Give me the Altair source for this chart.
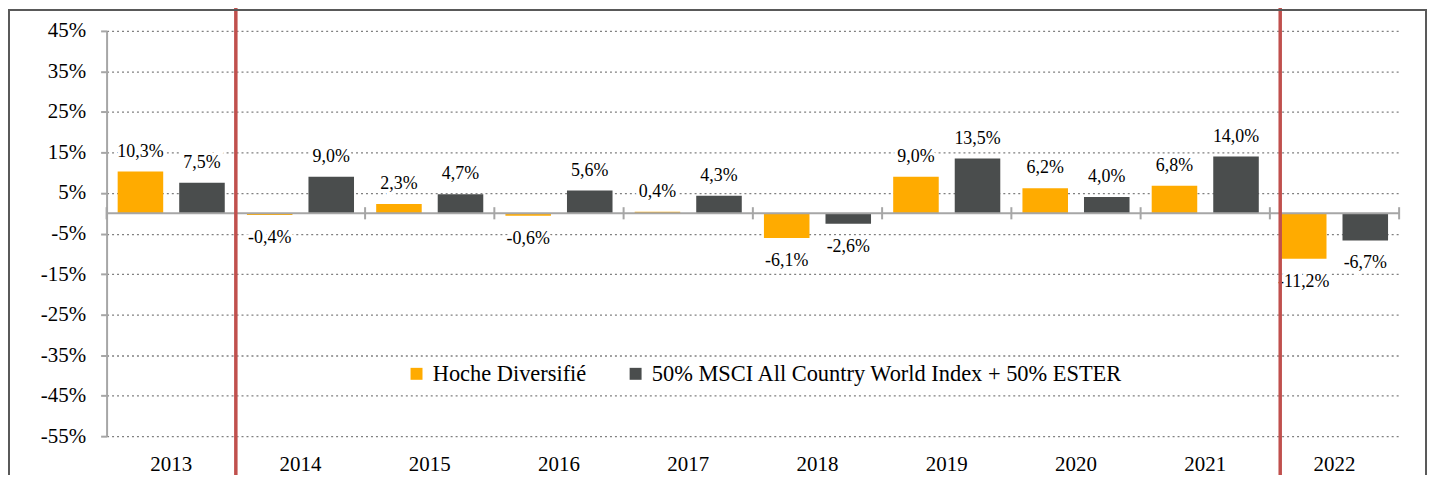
import altair as alt
import pandas as pd

years = ["2013", "2014", "2015", "2016", "2017", "2018", "2019", "2020", "2021", "2022"]
series_names = ["Hoche Diversifié", "50% MSCI All Country World Index + 50% ESTER"]
hoche = [10.3, -0.4, 2.3, -0.6, 0.4, -6.1, 9.0, 6.2, 6.8, -11.2]
bench = [7.5, 9.0, 4.7, 5.6, 4.3, -2.6, 13.5, 4.0, 14.0, -6.7]
colors = ["#FFAB00", "#4A4D4D"]
y_ticks = [-55, -45, -35, -25, -15, -5, 5, 15, 25, 35, 45]
split_before = ["2014"]
split_inside = ["2022"]

rows = []
for i, y in enumerate(years):
    for name, vals in zip(series_names, [hoche, bench]):
        v = vals[i]
        rows.append({"year": y, "series": name, "value": v,
                     "label": f"{v:.1f}".replace(".", ",") + "%"})
df = pd.DataFrame(rows)

FONT = "Liberation Serif"
W, H = 1298, 407
GRAY = "#A6A6A6"

xscale = alt.Scale(domain=years, paddingInner=0, paddingOuter=0)
yscale = alt.Scale(domain=[-55, 45], nice=False, zero=False)
X_AXIS = alt.Axis(domain=False, ticks=False, grid=False, labelAngle=0,
                  labelFont=FONT, labelFontSize=21, labelColor="#000",
                  labelPadding=17, title=None)
Y_AXIS = alt.Axis(values=y_ticks, labelExpr="datum.value + '%'",
                  domain=True, domainColor=GRAY, domainWidth=2,
                  ticks=True, tickSize=6, tickColor=GRAY, tickWidth=2,
                  grid=True, gridDash=[2, 3], gridColor="#808080", gridWidth=1.3,
                  labelFont=FONT, labelFontSize=21, labelColor="#000",
                  labelPadding=15, title=None)
xoff = alt.XOffset("series:N", sort=series_names,
                   scale=alt.Scale(domain=series_names, paddingInner=0.26, paddingOuter=0.18))


def X(field="year:N", **kw):
    return alt.X(field, scale=xscale, axis=X_AXIS, title=None, **kw)


def Y(field="value:Q"):
    return alt.Y(field, scale=yscale, axis=Y_AXIS, title=None)


bars = alt.Chart(df).mark_bar().encode(
    x=X(),
    xOffset=xoff,
    y=Y(),
    color=alt.Color("series:N", sort=series_names,
                    scale=alt.Scale(domain=series_names, range=colors),
                    legend=alt.Legend(orient="none", legendX=300, legendY=333,
                                      direction="horizontal", title=None,
                                      symbolType="square", symbolSize=144,
                                      symbolStrokeWidth=0, labelFont=FONT,
                                      labelFontSize=22.5, labelColor="#000",
                                      labelFontWeight="normal",
                                      labelOffset=5, columnPadding=38,
                                      labelLimit=700, padding=0)),
)

zero_line = alt.Chart(pd.DataFrame({"v": [0]})).mark_rule(color=GRAY, strokeWidth=2).encode(
    y=Y("v:Q"),
    x=alt.value(0), x2=alt.value(W),
)

tick_df = pd.DataFrame({"year": years, "lo": [-1.5] * len(years), "hi": [1.5] * len(years)})
ticks = alt.Chart(tick_df).mark_rule(color=GRAY, strokeWidth=2).encode(
    x=X(bandPosition=0), y=Y("lo:Q"), y2="hi:Q",
)
end_tick = alt.Chart(tick_df.tail(1)).mark_rule(color=GRAY, strokeWidth=2).encode(
    x=X(bandPosition=1), y=Y("lo:Q"), y2="hi:Q",
)


def label_layer(cond, dy, halo):
    if halo:
        mk = alt.Chart(df).mark_text(font=FONT, fontSize=18, baseline="middle", dy=dy,
                                      fill="white", stroke="white", strokeWidth=7)
    else:
        mk = alt.Chart(df).mark_text(font=FONT, fontSize=18, baseline="middle", dy=dy,
                                      color="#000")
    return mk.transform_filter(cond).encode(
        x=X(), xOffset=xoff, y=Y(), text="label:N",
    )


pos_cond = "datum.value >= 0"
neg_cond = "datum.value < 0"
labels = [label_layer(pos_cond, -20, True), label_layer(neg_cond, 23, True),
          label_layer(pos_cond, -20, False), label_layer(neg_cond, 23, False)]

red1 = alt.Chart(pd.DataFrame({"year": split_before})).mark_rule(
    color="#C0504D", strokeWidth=3.5).encode(
    x=X(bandPosition=0), y=alt.value(-23), y2=alt.value(H + 80),
)
red2 = alt.Chart(pd.DataFrame({"year": split_inside})).mark_rule(
    color="#C0504D", strokeWidth=3.5).encode(
    x=X(bandPosition=0.08), y=alt.value(-23), y2=alt.value(H + 80),
)

frame = alt.Chart(pd.DataFrame({"a": [0]})).mark_rect(
    filled=False, stroke="#595959", strokeWidth=2).encode(
    x=alt.value(-98), x2=alt.value(1325), y=alt.value(-21), y2=alt.value(H + 100),
)

chart = alt.layer(bars, zero_line, ticks, end_tick, *labels, red1, red2, frame).properties(
    width=W, height=H,
    padding={"left": 99, "top": 22, "right": 30, "bottom": 38},
    autosize=alt.AutoSizeParams(type="none"),
    background="white",
).configure(font=FONT).configure_view(stroke=None).configure_legend(
    labelFont=FONT, labelFontSize=22.5, labelColor="#000", labelFontWeight="normal"
).configure_axis(labelFont=FONT)

chart.save("out.html", embed_options={"renderer": "svg", "actions": False})
